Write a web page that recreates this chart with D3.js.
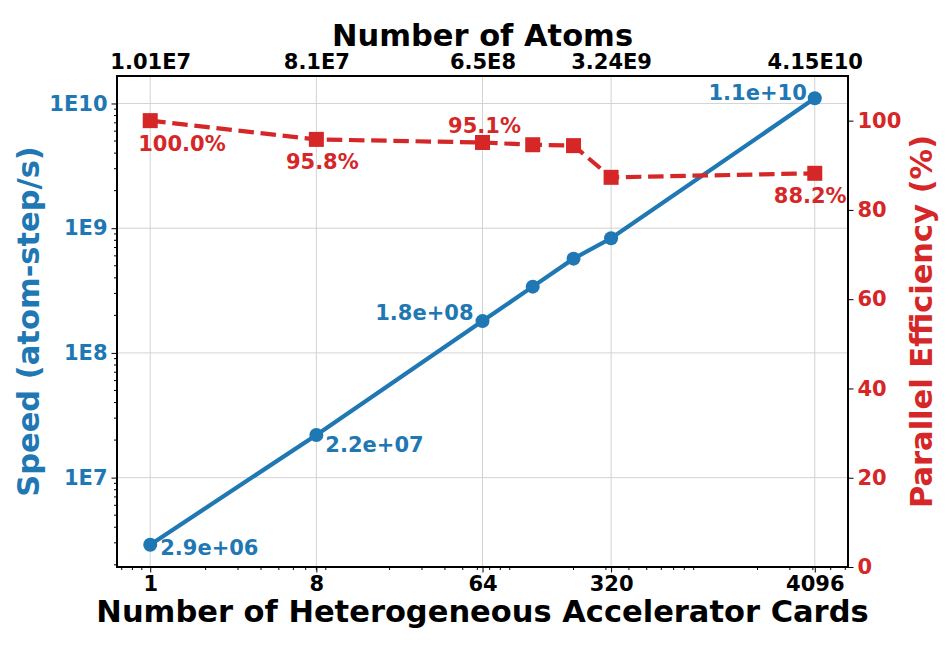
<!DOCTYPE html>
<html>
<head>
<meta charset="utf-8">
<script src="https://cdn.jsdelivr.net/npm/d3@7"></script>
<style>
  html, body { margin: 0; padding: 0; background: #ffffff; }
  svg text { font-family: "DejaVu Sans", sans-serif; font-weight: bold; }
</style>
</head>
<body>
<svg id="chart" width="950" height="648"></svg>
<script>
// data
const cards = [1, 8, 64, 120, 200, 320, 4096];
const speed = [2.9e6, 2.2e7, 1.8e8, 3.4e8, 5.7e8, 8.3e8, 1.1e10];
const efficiency = [100.0, 95.8, 95.1, 94.6, 94.4, 87.3, 88.2];

const cardTicks = [1, 8, 64, 320, 4096];
const atomTickLabels = ["1.01E7", "8.1E7", "6.5E8", "3.24E9", "4.15E10"];
const speedTicks = [1e7, 1e8, 1e9, 1e10];
const speedTickLabels = ["1E7", "1E8", "1E9", "1E10"];
const effTicks = [0, 20, 40, 60, 80, 100];

// which points get a value label, and where the label sits (dx, dy, anchor)
const speedLabelIdx = [0, 1, 2, 6];
const speedLabelPos = [[10, 10, "start"], [9, 17, "start"], [-9, -1, "end"], [-8, 2, "end"]];
const effLabelIdx = [0, 1, 2, 6];
const effLabelPos = [[-12, 30, "start"], [6, 30, "middle"], [2, -10, "middle"], [-41, 30, "start"]];

const theme = {
  blue: "#1f77b4",
  red: "#d62728",
  grid: "#d3d3d3",
  tickFont: 21,
  labelFont: 30.5
};

const width = 950, height = 648;
const plot = { left: 117, right: 848, top: 76, bottom: 567 };

const svg = d3.select("#chart");

// matplotlib-like 5% log margins
const lx = d3.extent(cards, (d) => Math.log2(d));
const padX = (lx[1] - lx[0]) * 0.05;
const x = d3.scaleLog().base(2)
  .domain([2 ** (lx[0] - padX), 2 ** (lx[1] + padX)])
  .range([plot.left, plot.right]);

const ly = d3.extent(speed, (d) => Math.log10(d));
const padY = (ly[1] - ly[0]) * 0.05;
const yLeft = d3.scaleLog()
  .domain([10 ** (ly[0] - padY), 10 ** (ly[1] + padY)])
  .range([plot.bottom, plot.top]);

const yRight = d3.scaleLinear().domain([0, 110]).range([plot.bottom, plot.top]);

const fmtSci = (v) => {
  const [m, e] = v.toExponential(1).split("e");
  const sign = e[0] === "-" ? "-" : "+";
  const digits = e.replace(/[+-]/, "").padStart(2, "0");
  return `${m}e${sign}${digits}`;
};

// grid
const grid = svg.append("g").attr("stroke", theme.grid).attr("stroke-width", 1);
grid.selectAll("line.gx")
  .data(cardTicks)
  .join("line")
  .attr("class", "gx")
  .attr("x1", (d) => x(d)).attr("x2", (d) => x(d))
  .attr("y1", plot.top).attr("y2", plot.bottom);
grid.selectAll("line.gy")
  .data(speedTicks)
  .join("line")
  .attr("class", "gy")
  .attr("x1", plot.left).attr("x2", plot.right)
  .attr("y1", (d) => yLeft(d)).attr("y2", (d) => yLeft(d));

// minor ticks (base 10 subs 2..9)
const minorsFor = (scale) => {
  const [a, b] = scale.domain();
  const out = [];
  for (let k = Math.floor(Math.log10(a)); k <= Math.ceil(Math.log10(b)); k++) {
    for (let s = 2; s <= 9; s++) {
      const v = s * 10 ** k;
      if (v >= a && v <= b) out.push(v);
    }
  }
  return out;
};

// bottom axis
const xAxis = d3.axisBottom(x)
  .tickValues(cardTicks)
  .tickFormat(d3.format("d"))
  .tickSizeInner(5.5).tickSizeOuter(0).tickPadding(4);
const gx = svg.append("g")
  .attr("transform", `translate(0,${plot.bottom})`)
  .call(xAxis);
gx.select(".domain").remove();
gx.selectAll("text").attr("font-size", theme.tickFont).attr("fill", "#000")
  .style("font-family", "DejaVu Sans").style("font-weight", "bold");
svg.append("g")
  .attr("stroke", "#000")
  .selectAll("line")
  .data(minorsFor(x))
  .join("line")
  .attr("x1", (d) => x(d)).attr("x2", (d) => x(d))
  .attr("y1", plot.bottom).attr("y2", plot.bottom + 3);

// top axis: atom counts
const xTop = d3.axisTop(x)
  .tickValues(cardTicks)
  .tickFormat((d, i) => atomTickLabels[i])
  .tickSize(0).tickPadding(7);
const gTop = svg.append("g")
  .attr("transform", `translate(0,${plot.top})`)
  .call(xTop);
gTop.select(".domain").remove();
gTop.selectAll("text").attr("font-size", theme.tickFont).attr("fill", "#000")
  .style("font-family", "DejaVu Sans").style("font-weight", "bold");

// left axis
const yAxisL = d3.axisLeft(yLeft)
  .tickValues(speedTicks)
  .tickFormat((d, i) => speedTickLabels[i])
  .tickSizeInner(5.5).tickSizeOuter(0).tickPadding(4);
const gl = svg.append("g")
  .attr("transform", `translate(${plot.left},0)`)
  .call(yAxisL);
gl.select(".domain").remove();
gl.selectAll("text").attr("font-size", theme.tickFont).attr("fill", theme.blue)
  .style("font-family", "DejaVu Sans").style("font-weight", "bold");
svg.append("g")
  .attr("stroke", "#000")
  .selectAll("line")
  .data(minorsFor(yLeft))
  .join("line")
  .attr("x1", plot.left - 3).attr("x2", plot.left)
  .attr("y1", (d) => yLeft(d)).attr("y2", (d) => yLeft(d));

// right axis
const yAxisR = d3.axisRight(yRight)
  .tickValues(effTicks)
  .tickFormat(d3.format("d"))
  .tickSizeInner(5.5).tickSizeOuter(0).tickPadding(4);
const gr = svg.append("g")
  .attr("transform", `translate(${plot.right},0)`)
  .call(yAxisR);
gr.select(".domain").remove();
gr.selectAll("text").attr("font-size", theme.tickFont).attr("fill", theme.red)
  .style("font-family", "DejaVu Sans").style("font-weight", "bold");

// frame
svg.append("rect")
  .attr("x", plot.left).attr("y", plot.top)
  .attr("width", plot.right - plot.left).attr("height", plot.bottom - plot.top)
  .attr("fill", "none").attr("stroke", "#000").attr("stroke-width", 2);

// speed series
const speedData = cards.map((c, i) => ({ c, v: speed[i] }));
svg.append("path")
  .datum(speedData)
  .attr("fill", "none")
  .attr("stroke", theme.blue)
  .attr("stroke-width", 4.2)
  .attr("d", d3.line().x((d) => x(d.c)).y((d) => yLeft(d.v)));
svg.append("g")
  .selectAll("circle")
  .data(speedData)
  .join("circle")
  .attr("cx", (d) => x(d.c)).attr("cy", (d) => yLeft(d.v))
  .attr("r", 7).attr("fill", theme.blue);
svg.append("g")
  .selectAll("text")
  .data(speedLabelIdx)
  .join("text")
  .attr("x", (d, i) => x(cards[d]) + speedLabelPos[i][0])
  .attr("y", (d, i) => yLeft(speed[d]) + speedLabelPos[i][1])
  .attr("text-anchor", (d, i) => speedLabelPos[i][2])
  .attr("font-size", theme.tickFont)
  .attr("fill", theme.blue)
  .text((d) => fmtSci(speed[d]));

// efficiency series
const effData = cards.map((c, i) => ({ c, v: efficiency[i] }));
svg.append("path")
  .datum(effData)
  .attr("fill", "none")
  .attr("stroke", theme.red)
  .attr("stroke-width", 4.2)
  .attr("stroke-dasharray", "15.5,6.7")
  .attr("d", d3.line().x((d) => x(d.c)).y((d) => yRight(d.v)));
svg.append("g")
  .selectAll("rect")
  .data(effData)
  .join("rect")
  .attr("x", (d) => x(d.c) - 7.5).attr("y", (d) => yRight(d.v) - 7.5)
  .attr("width", 15).attr("height", 15).attr("fill", theme.red);
svg.append("g")
  .selectAll("text")
  .data(effLabelIdx)
  .join("text")
  .attr("x", (d, i) => x(cards[d]) + effLabelPos[i][0])
  .attr("y", (d, i) => yRight(efficiency[d]) + effLabelPos[i][1])
  .attr("text-anchor", (d, i) => effLabelPos[i][2])
  .attr("font-size", theme.tickFont)
  .attr("fill", theme.red)
  .text((d) => `${efficiency[d].toFixed(1)}%`);

// titles
const midX = (plot.left + plot.right) / 2;
const midY = (plot.top + plot.bottom) / 2;
svg.append("text")
  .attr("x", midX).attr("y", 622)
  .attr("text-anchor", "middle")
  .attr("font-size", theme.labelFont)
  .text("Number of Heterogeneous Accelerator Cards");
svg.append("text")
  .attr("x", midX).attr("y", 46)
  .attr("text-anchor", "middle")
  .attr("font-size", theme.labelFont)
  .text("Number of Atoms");
svg.append("text")
  .attr("transform", `translate(39,${midY}) rotate(-90)`)
  .attr("text-anchor", "middle")
  .attr("font-size", theme.labelFont)
  .attr("fill", theme.blue)
  .text("Speed (atom-step/s)");
svg.append("text")
  .attr("transform", `translate(932,${midY}) rotate(-90)`)
  .attr("text-anchor", "middle")
  .attr("font-size", theme.labelFont)
  .attr("fill", theme.red)
  .text("Parallel Efficiency (%)");
</script>
</body>
</html>
